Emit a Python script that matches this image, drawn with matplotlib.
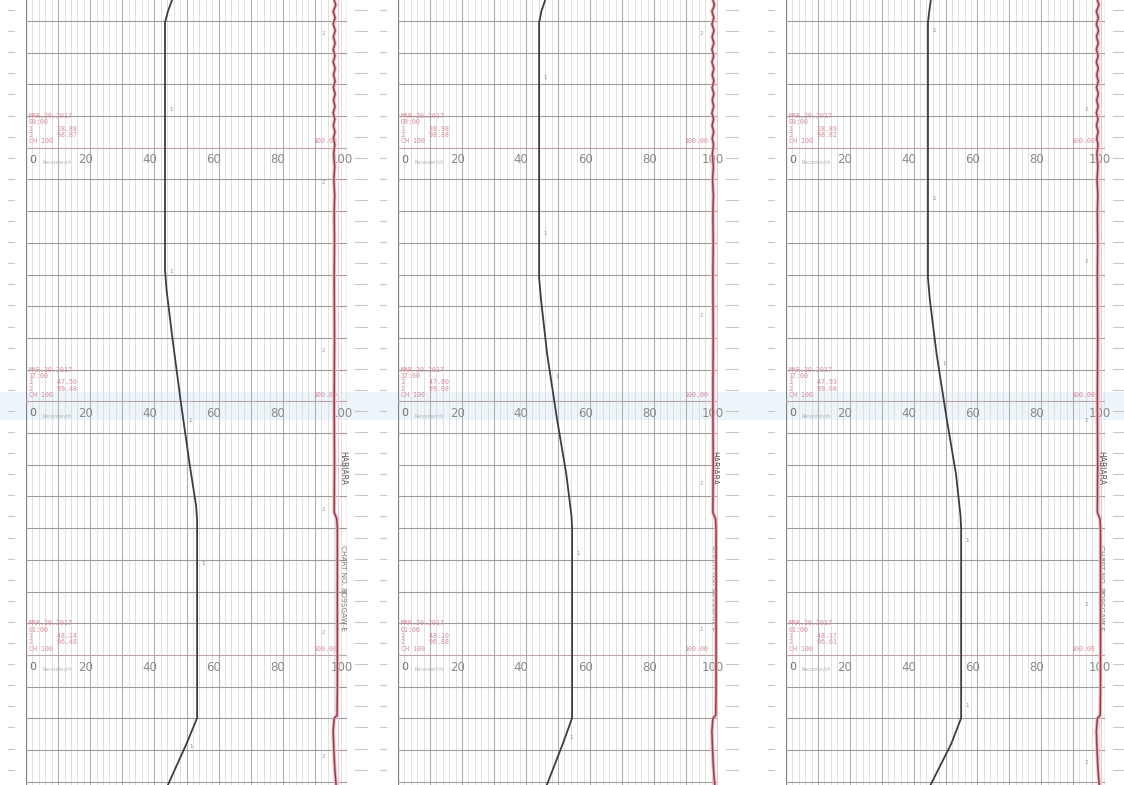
import numpy as np
import matplotlib
matplotlib.use('Agg')
import matplotlib.pyplot as plt

# chart rows run down the page (row 0 = first printed line)
rows_top, rows_bottom = -0.66, 24.1

# pen 1 (black) trace, (row, value) per panel
pen1_rows = [[-0.66, -0.3, 0.05, 7.85, 8.5, 10.0, 12.0, 14.0, 15.3, 15.74, 21.99, 22.8, 24.1],
             [-0.66, -0.3, 0.05, 8.1, 8.8, 10.5, 12.5, 14.3, 15.6, 16.0, 21.99, 22.8, 24.1],
             [-0.66, -0.3, 0.05, 8.1, 8.8, 10.5, 12.5, 14.3, 15.6, 16.0, 21.99, 22.8, 24.1]]
pen1_vals = [[45.5, 44.2, 43.3, 43.3, 43.8, 45.6, 48.2, 51.0, 53.0, 53.3, 53.3, 50.0, 44.2],
             [46.0, 44.8, 44.1, 44.1, 44.7, 46.6, 49.6, 52.6, 54.2, 54.4, 54.4, 51.5, 46.5],
             [45.4, 44.9, 44.5, 44.5, 45.1, 47.2, 50.3, 53.3, 54.7, 54.9, 54.9, 51.8, 45.3]]

pen2_rows = [-0.66, -0.5, -0.3, -0.1, 0.1, 0.3, 0.5, 0.7, 0.9, 1.1, 1.3, 1.5, 1.7, 1.9, 2.1,
             2.3, 2.5, 2.7, 2.9, 3.1, 3.3, 3.5, 3.7, 3.9, 4.2, 4.6, 5.0, 5.5, 6.0, 7.0, 8.0,
             10.0, 12.0, 14.0, 15.5, 15.7, 16.0, 18.0, 21.0, 21.9, 22.0, 22.4, 23.0, 23.6, 24.1]
pen2_off = [0.0, 0.5, -0.3, 0.3, -0.3, 0.35, -0.25, 0.3, -0.3, 0.25, -0.3, 0.3, -0.2, 0.3, -0.25,
            0.3, -0.2, 0.25, -0.3, 0.2, -0.25, 0.25, -0.2, 0.2, -0.15, 0.15, -0.1, 0.15, 0.0, 0.1, 0.0,
            0.1, 0.0, 0.1, 0.0, 0.8, 1.0, 1.0, 1.0, 0.9, 0.0, -0.3, -0.1, 0.2, 0.6]
pen2_base = [96.0, 98.4, 97.6]

# printed record blocks (value for pen 1, pen 2) per label row
label_rows = [4, 12, 20]
print_dates = [["MAR.20.2017", "MAR.20.2017", "MAR.20.2017"],
               ["MAR.20.2017", "MAR.20.2017", "MAR.20.2017"],
               ["MAR.20.2017", "MAR.20.2017", "MAR.20.2017"]]
print_times = [["09:00", "17:00", "01:00"], ["09:00", "17:00", "01:00"], ["09:00", "17:00", "01:00"]]
print_p1 = [["38.88", "47.50", "48.24"], ["38.98", "47.80", "48.10"], ["38.89", "47.93", "48.17"]]
print_p2 = [["98.87", "99.48", "96.48"], ["98.88", "99.08", "96.88"], ["98.82", "99.08", "96.61"]]
scale_ticks = [0, 20, 40, 60, 80, 100]

# pen number marks
mark1_rows = [[2.8, 7.9, 12.6, 17.1, 22.9], [1.8, 6.7, 11.2, 16.8, 22.6], [0.3, 5.6, 10.8, 16.4, 21.6]]
mark2_rows = [[0.4, 5.1, 10.4, 15.4, 19.3, 23.2], [0.4, 9.3, 14.6, 19.2], [2.8, 7.6, 12.6, 18.4, 23.4]]

panel_left = [26, 398, 786]
panel_width = [321, 320, 319]
W, H = 1124, 785

fig = plt.figure(figsize=(11.24, 7.85), dpi=100)
fig.patch.set_facecolor('white')

# background layer in pixel units: margin dashes and a faint scan band
bg = fig.add_axes([0, 0, 1, 1])
bg.set_xlim(0, W)
bg.set_ylim(H, 0)
bg.axis('off')
bg.axhspan(392, 420, color='#e8f1f8', alpha=0.7, lw=0)
dash_y = np.arange(10, H, 21.1)
for left, width in zip(panel_left, panel_width):
    for yy in dash_y:
        bg.plot([left - 18, left - 12], [yy, yy], color='#c8c8c8', lw=0.8)
        bg.plot([left + width + 8, left + width + 20], [yy, yy], color='#c8c8c8', lw=0.8)

red = '#9c3a4a'
pink = '#d88a9a'
grey_txt = '#8a8a8a'

for p in range(3):
    ax = fig.add_axes([panel_left[p] / W, 0, panel_width[p] / W, 1])
    ax.set_xlim(0, 100)
    ax.set_ylim(rows_bottom, rows_top)
    ax.axis('off')
    ax.patch.set_alpha(0)

    # vertical grid
    for v in range(0, 101, 2):
        if v in (0, 100):
            ax.axvline(v, color='#808080', lw=0.9, zorder=1)
        elif v % 10 == 0:
            ax.axvline(v, color='#b0b0b0', lw=0.8, zorder=1)
        else:
            ax.axvline(v, color='#dadada', lw=0.6, zorder=1)
    # horizontal grid
    for r in range(0, 25):
        if r in label_rows:
            ax.axhline(r, color='#bca2aa', lw=0.8, zorder=1)
        else:
            ax.axhline(r, color='#9c9c9c', lw=0.8, zorder=1)
    # light pink guide near the right edge
    ax.axvline(pen2_base[p] + 1.3, color='#eec6cd', lw=0.8, zorder=1)

    # scale labels and printed records
    for k, lr in enumerate(label_rows):
        for t in scale_ticks:
            if t == 0:
                ax.text(1.0, lr + 0.38, "0", color='#707070', fontsize=8, ha='left', va='center')
                ax.text(5.0, lr + 0.45, "Recorder/ch", color='#b0b0b0', fontsize=3.5,
                        ha='left', va='center')
            else:
                ax.text(t - 1.5, lr + 0.38, str(t), color=grey_txt, fontsize=8.5,
                        ha='center', va='center')
        block = [print_dates[p][k], print_times[p][k],
                 "1      " + print_p1[p][k], "2      " + print_p2[p][k], "CH 100"]
        for j, line in enumerate(block):
            ax.text(0.8, lr - 1.0 + j * 0.2, line, color=pink, fontsize=4.8,
                    family='DejaVu Sans Mono', ha='left', va='center')
        ax.text(97, lr - 0.2, "100.00", color=pink, fontsize=4.8,
                family='DejaVu Sans Mono', ha='right', va='center')

    # chart id along the right border
    ax.text(98.6, 14.1, "HABIARA", rotation=-90, color='#555555', fontsize=5.5,
            ha='center', va='center')
    ax.text(98.6, 17.9, "CHART NO. 8D9SGAW-E", rotation=-90, color='#777777', fontsize=5.2,
            ha='center', va='center')

    # pen 1
    ax.plot(pen1_vals[p], pen1_rows[p], color='#3c3c4a', lw=1.3, zorder=4)
    # pen 2
    x2 = [pen2_base[p] + o for o in pen2_off]
    ax.plot(x2, pen2_rows, color='#eabac3', lw=2.6, zorder=3, solid_capstyle='round')
    ax.plot(x2, pen2_rows, color=red, lw=1.1, zorder=4)

    for r in mark1_rows[p]:
        ax.text(np.interp(r, pen1_rows[p], pen1_vals[p]) + 2.0, r, "1",
                color='#888888', fontsize=4, ha='center', va='center')
    for r in mark2_rows[p]:
        ax.text(pen2_base[p] - 3.5, r, "2", color='#999999', fontsize=4,
                ha='center', va='center')

fig.savefig('out.png', dpi=100, facecolor='white')
